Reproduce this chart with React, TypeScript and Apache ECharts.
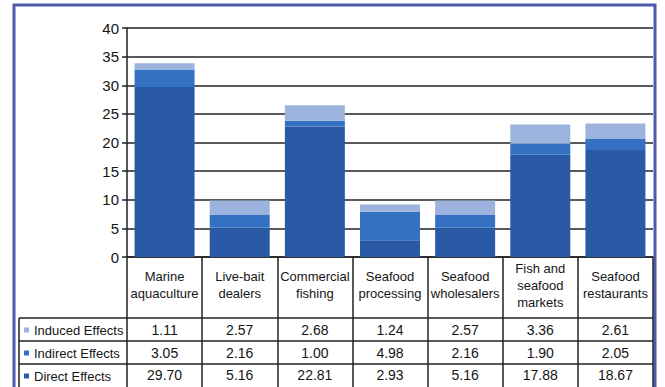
import React, { useEffect, useRef } from "react";
import * as echarts from "echarts";

const categories = [
  "Marine\naquaculture",
  "Live-bait\ndealers",
  "Commercial\nfishing",
  "Seafood\nprocessing",
  "Seafood\nwholesalers",
  "Fish and\nseafood\nmarkets",
  "Seafood\nrestaurants",
];
const seriesNames = ["Direct Effects", "Indirect Effects", "Induced Effects"];
const directValues = [29.7, 5.16, 22.81, 2.93, 5.16, 17.88, 18.67];
const indirectValues = [3.05, 2.16, 1.0, 4.98, 2.16, 1.9, 2.05];
const inducedValues = [1.11, 2.57, 2.68, 1.24, 2.57, 3.36, 2.61];
const yTicks = { min: 0, max: 40, interval: 5 };

const W = 665;
const H = 387;
const FONT = '"Liberation Sans", Arial, sans-serif';
const GRID = { left: 127, right: 12, top: 28, bottom: 130 };
const axisY = H - GRID.bottom; // 257
const plotRight = W - GRID.right; // 653
const tableLeft = 19;
const rowLines = [318, 341, 364];
const rowCenters = [330, 353, 375];
const TEXT = "#151515";

const COLORS = {
  direct: "#2a5aa6",
  indirect: "#3571c3",
  induced: "#9cb3de",
};

export default function App() {
  const ref = useRef<HTMLDivElement>(null);
  useEffect(() => {
    if (!ref.current) return;
    const chart = echarts.init(ref.current, null, { renderer: "svg" });
    const fmt = (v: number) => v.toFixed(2);
    const valueAxis = (vals: number[], center: number) => ({
      type: "category",
      gridIndex: 0,
      position: "bottom",
      data: vals.map(fmt),
      axisLine: { show: false },
      axisTick: { show: false },
      splitLine: { show: false },
      axisLabel: {
        interval: 0,
        margin: center - axisY,
        verticalAlign: "middle",
        fontFamily: FONT,
        fontSize: 14,
        color: TEXT,
      },
    });
    const graphics: any[] = [
      {
        type: "rect",
        shape: { x: 14, y: 5, width: 641, height: 420 },
        style: { fill: "none", stroke: "#5059ad", lineWidth: 3 },
        silent: true,
      },
      {
        type: "line",
        shape: { x1: tableLeft, y1: rowLines[0], x2: tableLeft, y2: H },
        style: { stroke: "#222", lineWidth: 1.5 },
      },
      ...rowLines.map((y) => ({
        type: "line",
        shape: { x1: tableLeft, y1: y, x2: plotRight, y2: y },
        style: { stroke: "#222", lineWidth: 1.5 },
      })),
    ];
    chart.setOption({
      animation: false,
      backgroundColor: "#ffffff",
      grid: { ...GRID, containLabel: false },
      legend: {
        orient: "vertical",
        left: 24,
        top: rowLines[0] + 1,
        padding: 0,
        itemGap: 1,
        itemWidth: 5,
        itemHeight: 5,
        icon: "rect",
        selectedMode: false,
        data: ["Induced Effects", "Indirect Effects", "Direct Effects"],
        textStyle: {
          fontFamily: FONT,
          fontSize: 13,
          color: TEXT,
          lineHeight: 22,
          padding: [0, 0, 0, 0],
        },
      },
      xAxis: [
        {
          type: "category",
          data: categories,
          position: "bottom",
          axisLine: { show: true, lineStyle: { color: "#222", width: 1.5 } },
          axisTick: {
            show: true,
            length: H - axisY,
            lineStyle: { color: "#222", width: 1.5 },
          },
          axisLabel: {
            interval: 0,
            margin: 28,
            verticalAlign: "middle",
            fontFamily: FONT,
            fontSize: 13,
            lineHeight: 17,
            color: TEXT,
          },
        },
        valueAxis(inducedValues, rowCenters[0]),
        valueAxis(indirectValues, rowCenters[1]),
        valueAxis(directValues, rowCenters[2]),
      ],
      yAxis: {
        type: "value",
        min: yTicks.min,
        max: yTicks.max,
        interval: yTicks.interval,
        axisLine: { show: true, lineStyle: { color: "#222", width: 1.5 } },
        axisTick: { show: true, length: 5, lineStyle: { color: "#222", width: 1.5 } },
        splitLine: { show: true, lineStyle: { color: "#222", width: 1.5 } },
        axisLabel: {
          margin: 8,
          fontFamily: FONT,
          fontSize: 15,
          color: TEXT,
        },
      },
      series: [
        {
          name: seriesNames[0],
          type: "bar",
          stack: "total",
          barWidth: 60,
          data: directValues,
          itemStyle: { color: COLORS.direct },
        },
        {
          name: seriesNames[1],
          type: "bar",
          stack: "total",
          barWidth: 60,
          data: indirectValues,
          itemStyle: { color: COLORS.indirect },
        },
        {
          name: seriesNames[2],
          type: "bar",
          stack: "total",
          barWidth: 60,
          data: inducedValues,
          itemStyle: { color: COLORS.induced },
        },
      ],
      graphic: graphics,
    });
    return () => chart.dispose();
  }, []);
  return (
    <div
      ref={ref}
      style={{ position: "absolute", left: 0, top: 0, width: W, height: H }}
    />
  );
}
